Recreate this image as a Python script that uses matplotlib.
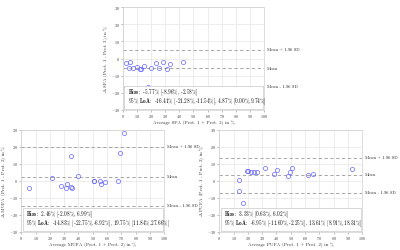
import numpy as np
import matplotlib
matplotlib.use('Agg')
import matplotlib.pyplot as plt

plt.rcParams['font.family'] = ['cmr10', 'DejaVu Serif']
plt.rcParams['mathtext.fontset'] = 'cm'
plt.rcParams['axes.unicode_minus'] = False
plt.rcParams['axes.formatter.use_mathtext'] = True

## data
sfa_avg = [2.4, 5.4, 4.2, 7.1, 10.4, 12.5, 13.0, 14.9, 19.8, 23.3, 25.9, 28.8, 31.6, 33.7, 42.5, 18.2]
sfa_diff = [-2.7, -1.8, -5.5, -5.8, -4.7, -6.2, -6.4, -4.5, -5.3, -2.7, -5.8, -2.3, -6.0, -3.3, -2.1, -16.8]
sfa_stats = [-5.77, -16.41, 4.87]
sfa_text = ["-5.77% [-8.96%, -2.58%]", "-16.41% [-21.28%,-11.54%], 4.87% [0.00%,9.74%]"]

mufa_avg = [5.6, 21.7, 27.5, 31.5, 32.0, 35.0, 35.0, 35.4, 39.6, 50.6, 51.0, 55.0, 55.5, 58.3, 67.6, 69.2, 72.0]
mufa_diff = [-4.4, 1.9, -3.0, -4.4, -1.7, 14.6, -3.4, -4.4, 3.0, 0.1, 0.1, 0.1, -1.6, -0.9, 0.1, 16.1, 27.9]
mufa_stats = [2.46, -14.83, 19.75]
mufa_text = ["2.46% [-2.08%, 6.99%]", "-14.83% [-22.75%,-6.92%], 19.75% [11.84%,27.66%]"]

pufa_avg = [13.8, 13.8, 19.1, 20.2, 22.5, 24.4, 26.2, 16.8, 31.7, 38.6, 40.5, 48.3, 49.7, 50.6, 62.1, 65.3, 92.6]
pufa_diff = [0.3, -5.8, 5.8, 5.8, 5.0, 5.0, 5.0, -13.0, 7.3, 4.2, 6.3, 2.6, 5.1, 7.3, 3.2, 4.0, 7.1]
pufa_stats = [3.32, -6.95, 13.61]
pufa_text = ["3.33% [0.63%, 6.02%]", "-6.95% [-11.60%,-2.25%], 13.61% [8.91%,18.31%]"]

fig = plt.figure(figsize=(4, 2.5), dpi=100)

def ba_panel(rect, avg, diff, stats, txt, name):
    ax = fig.add_axes(rect)
    ax.set_xlim(0, 100)
    ax.set_ylim(-30, 30)
    ax.set_xticks(np.arange(0, 101, 10))
    ax.set_yticks(np.arange(-30, 31, 10))
    ax.grid(True, color='#e6e6e6', lw=0.5)
    ax.set_axisbelow(True)
    for s in ax.spines.values():
        s.set_color('#d0d0d0')
        s.set_linewidth(0.5)
    ax.tick_params(labelsize=3, length=1.2, width=0.4, color='#888888',
                   labelcolor='#333333', pad=1)
    bias, lo, hi = stats
    for v in (hi, bias, lo):
        ax.axhline(v, color='#999999', lw=0.6, ls=(0, (4, 3)))
    ax.plot(avg, diff, 'o', mfc='none', mec='#6666ff', mew=0.5, ms=3)
    labs = ['Mean + 1.96 SD', 'Mean', 'Mean - 1.96 SD']
    for v, l in zip((hi, bias, lo), labs):
        ax.annotate(l, xy=(1, v), xycoords=('axes fraction', 'data'),
                    xytext=(2, 0), textcoords='offset points',
                    fontsize=3.2, va='center', ha='left', color='#222222')
    ax.set_xlabel('Average %s (Prot. 1 + Prot. 2) in %%' % name, fontsize=3.5,
                  labelpad=1, color='#333333')
    ax.set_ylabel('$\\Delta$ %s (Prot. 1 - Prot. 2) in %%' % name, fontsize=3.5,
                  labelpad=0.5, color='#333333')
    ax.text(0.035, 0.165, r'$\mathbf{Bias:}$ ' + txt[0], transform=ax.transAxes,
            fontsize=3.8, va='center', ha='left', color='#111111')
    ax.text(0.035, 0.075, r'$\mathbf{95\%\ LoA:}$ ' + txt[1], transform=ax.transAxes,
            fontsize=3.8, va='center', ha='left', color='#111111')
    ax.add_patch(plt.Rectangle((0.01, 0.01), 0.98, 0.22, transform=ax.transAxes,
                               facecolor='white', edgecolor='#bbbbbb', lw=0.4, zorder=2.5))
    return ax

ba_panel([0.307, 0.56, 0.353, 0.412], sfa_avg, sfa_diff, sfa_stats, sfa_text, 'SFA')
ba_panel([0.053, 0.072, 0.3575, 0.409], mufa_avg, mufa_diff, mufa_stats, mufa_text, 'MUFA')
ba_panel([0.548, 0.072, 0.3575, 0.409], pufa_avg, pufa_diff, pufa_stats, pufa_text, 'PUFA')

fig.savefig('out.png', dpi=100)
